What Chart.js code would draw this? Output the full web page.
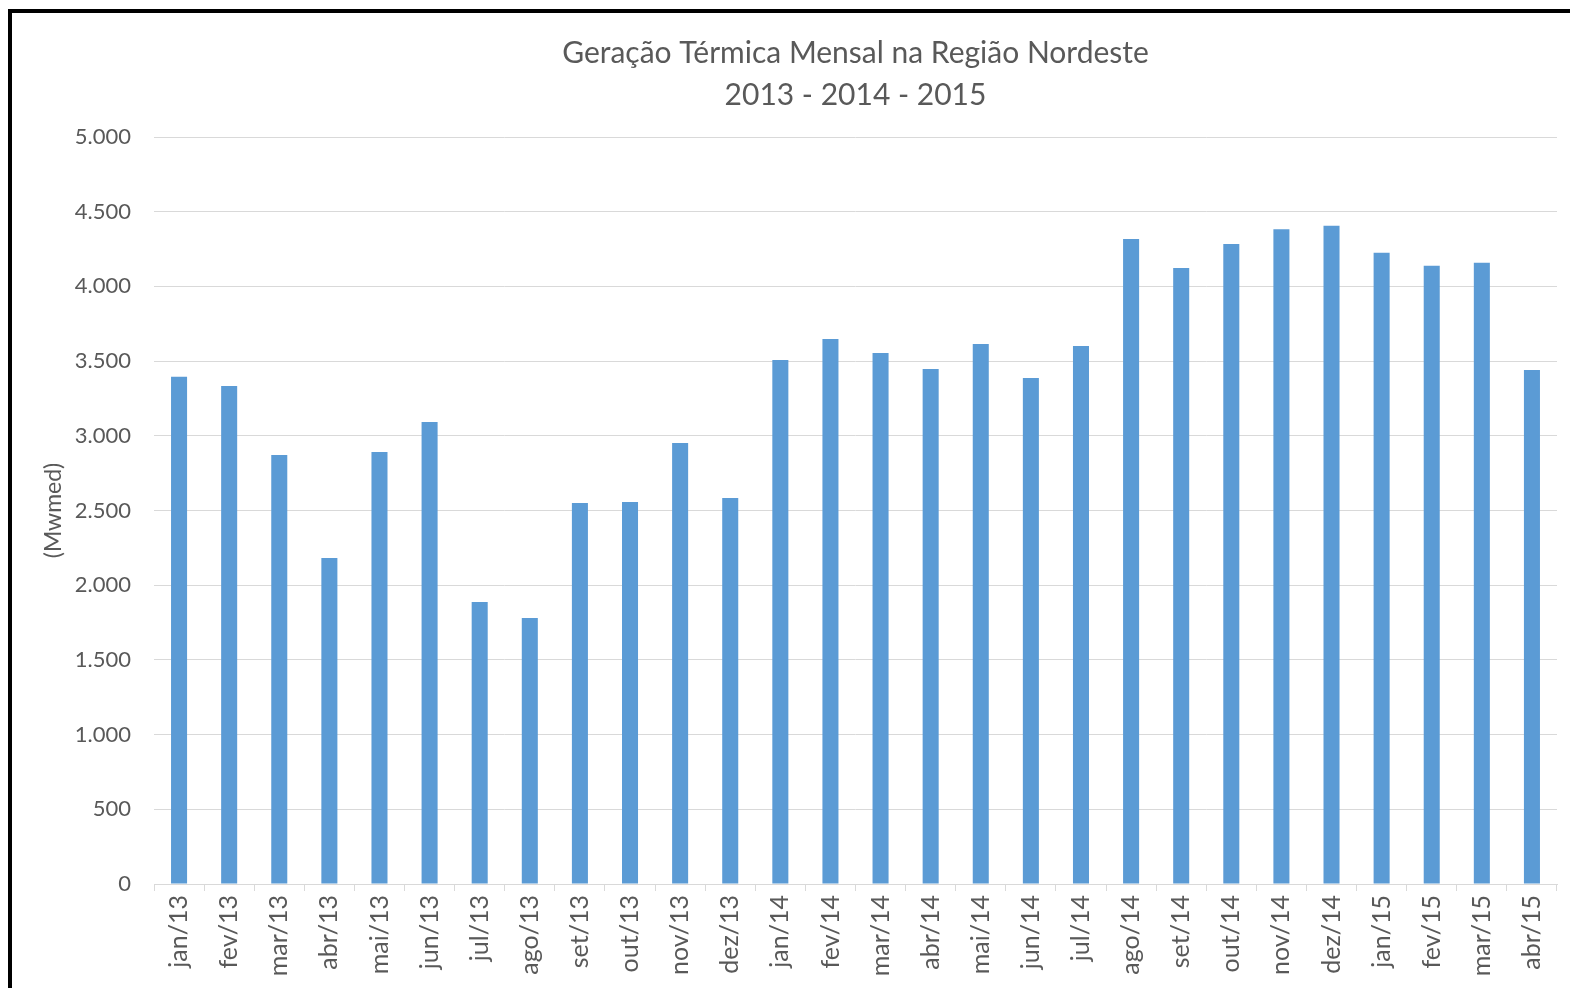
<!DOCTYPE html>
<html>
<head>
<meta charset="utf-8">
<script src="https://cdn.jsdelivr.net/npm/chart.js@4.4.1/dist/chart.umd.min.js"></script>
<style>
  html, body { margin: 0; padding: 0; background: #fff; }
  #wrap { position: absolute; left: 0; top: 0; width: 1570px; height: 988px; }
  #frame {
    position: absolute; left: 8px; top: 9px; right: -10px; bottom: -10px;
    border-left: 4px solid #000; border-top: 4px solid #000;
    pointer-events: none;
  }
</style>
</head>
<body>
<div id="wrap">
  <canvas id="chart" width="1570" height="988"></canvas>
  <div id="frame"></div>
</div>
<script>
const months = [
  'jan/13', 'fev/13', 'mar/13', 'abr/13', 'mai/13', 'jun/13', 'jul/13', 'ago/13', 'set/13', 'out/13', 'nov/13', 'dez/13',
  'jan/14', 'fev/14', 'mar/14', 'abr/14', 'mai/14', 'jun/14', 'jul/14', 'ago/14', 'set/14', 'out/14', 'nov/14', 'dez/14',
  'jan/15', 'fev/15', 'mar/15', 'abr/15'
];
// geração térmica (MWmed)
const geracao = [
  3395, 3333, 2871, 2182, 2892, 3092, 1888, 1780, 2550, 2557, 2952, 2584,
  3507, 3648, 3554, 3447, 3614, 3387, 3601, 4317, 4123, 4283, 4382, 4406,
  4226, 4138, 4158, 3440
];
const titleLines = ['Geração Térmica Mensal na Região Nordeste', '2013 - 2014 - 2015'];
const yTitle = '(Mwmed)';

const fontFamily = 'Lato, "Open Sans", sans-serif';
const grey = '#595959';

function formatThousands(v) {
  return String(v).replace(/\B(?=(\d{3})+(?!\d))/g, '.');
}

const data = {
  labels: months,
  datasets: [{
    label: 'Geração',
    data: geracao,
    backgroundColor: '#5b9bd5',
    borderWidth: 0,
    categoryPercentage: 1,
    barPercentage: 0.32
  }]
};

const config = {
  type: 'bar',
  data,
  options: {
    responsive: false,
    animation: false,
    layout: {
      padding: { left: 40, right: 13, top: 32, bottom: 0 }
    },
    plugins: {
      legend: { display: false },
      tooltip: { enabled: false },
      title: {
        display: true,
        fullSize: false,
        text: titleLines,
        color: grey,
        font: { family: fontFamily, size: 30, lineHeight: 1.4, weight: 'normal' },
        padding: { top: 0, bottom: 21 }
      }
    },
    scales: {
      x: {
        grid: {
          drawOnChartArea: false,
          drawTicks: true,
          tickLength: 7,
          color: '#d9d9d9'
        },
        border: { color: '#d9d9d9' },
        ticks: {
          color: grey,
          font: { family: fontFamily, size: 25 },
          minRotation: 90,
          maxRotation: 90,
          autoSkip: false,
          padding: 4
        },
        afterFit: function (scale) { scale.height = 104; }
      },
      y: {
        min: 0,
        max: 5000,
        grid: {
          color: '#d9d9d9',
          drawTicks: false
        },
        border: { display: false },
        ticks: {
          stepSize: 500,
          color: grey,
          font: { family: fontFamily, size: 22 },
          padding: 23,
          callback: function (v) { return formatThousands(v); }
        },
        title: {
          display: true,
          text: yTitle,
          color: grey,
          font: { family: fontFamily, size: 23 },
          padding: 0
        },
        afterFit: function (scale) { scale.width = 114; }
      }
    }
  }
};

const myChart = new Chart(document.getElementById('chart'), config);
</script>
</body>
</html>
